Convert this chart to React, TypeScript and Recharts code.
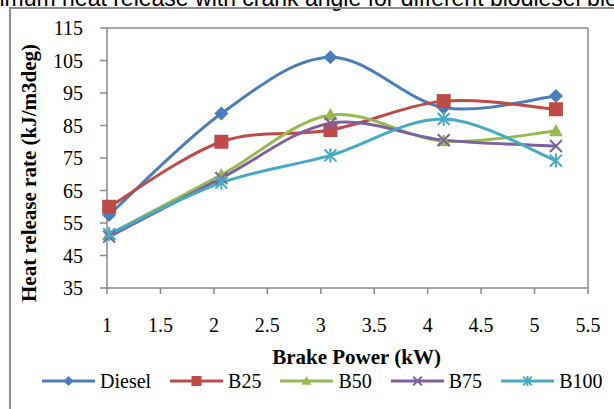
import { LineChart, Line, XAxis, YAxis, Legend, Label, ReferenceLine } from 'recharts'

const brakePower = [1.02, 2.07, 3.09, 4.15, 5.2]
const diesel = [57.5, 88.7, 106, 90.5, 94.1]
const b25 = [60, 80, 83.6, 92.5, 90]
const b50 = [51.5, 69.8, 88.2, 80.2, 83.3]
const b75 = [50.8, 68.8, 85.7, 80.5, 78.7]
const b100 = [51.6, 67.4, 75.8, 87, 74.2]

const xTicks = [1, 1.5, 2, 2.5, 3, 3.5, 4, 4.5, 5, 5.5]
const yTicks = [35, 45, 55, 65, 75, 85, 95, 105, 115]

const data = brakePower.map((x, i) => ({
  x,
  Diesel: diesel[i],
  B25: b25[i],
  B50: b50[i],
  B75: b75[i],
  B100: b100[i],
}))

const serif = '"Liberation Serif", "Times New Roman", serif'
const axisGray = '#898989'

// excel-style smoothed line (catmull-rom through the points)
const excelCurve = (context: any) => {
  let pts: number[][] = []
  return {
    areaStart() {},
    areaEnd() {},
    lineStart() {
      pts = []
    },
    point(x: number, y: number) {
      pts.push([+x, +y])
    },
    lineEnd() {
      if (!pts.length) return
      context.moveTo(pts[0][0], pts[0][1])
      for (let i = 0; i < pts.length - 1; i++) {
        const p0 = pts[Math.max(i - 1, 0)]
        const p1 = pts[i]
        const p2 = pts[i + 1]
        const p3 = pts[Math.min(i + 2, pts.length - 1)]
        context.bezierCurveTo(
          p1[0] + (p2[0] - p0[0]) / 6,
          p1[1] + (p2[1] - p0[1]) / 6,
          p2[0] - (p3[0] - p1[0]) / 6,
          p2[1] - (p3[1] - p1[1]) / 6,
          p2[0],
          p2[1]
        )
      }
    },
  }
}

function marker(kind: string, cx: number, cy: number, color: string, r: number, key?: any) {
  if (kind === 'diamond')
    return <polygon key={key} points={`${cx},${cy - r} ${cx + r},${cy} ${cx},${cy + r} ${cx - r},${cy}`} fill={color} />
  if (kind === 'square')
    return <rect key={key} x={cx - r} y={cy - r} width={r * 2} height={r * 2} fill={color} />
  if (kind === 'triangle')
    return <polygon key={key} points={`${cx},${cy - r} ${cx + r},${cy + r * 0.75} ${cx - r},${cy + r * 0.75}`} fill={color} />
  const d = r * 0.85
  const lines = [
    <line key="a" x1={cx - d} y1={cy - d} x2={cx + d} y2={cy + d} stroke={color} strokeWidth={2} />,
    <line key="b" x1={cx - d} y1={cy + d} x2={cx + d} y2={cy - d} stroke={color} strokeWidth={2} />,
  ]
  if (kind === 'star')
    lines.push(<line key="c" x1={cx} y1={cy - r} x2={cx} y2={cy + r} stroke={color} strokeWidth={2} />)
  return <g key={key}>{lines}</g>
}

const series = [
  { key: 'Diesel', color: '#4A7EBB', kind: 'diamond' },
  { key: 'B25', color: '#BE4B48', kind: 'square' },
  { key: 'B50', color: '#98B954', kind: 'triangle' },
  { key: 'B75', color: '#7D60A0', kind: 'x' },
  { key: 'B100', color: '#46AAC5', kind: 'star' },
]

function LegendContent() {
  return (
    <div style={{ display: 'flex', alignItems: 'center', height: 24, paddingLeft: 42, fontFamily: serif, fontSize: 20, color: '#000' }}>
      {series.map((s) => (
        <div key={s.key} style={{ display: 'flex', alignItems: 'center', marginRight: 19 }}>
          <svg width={53} height={20} style={{ marginRight: 5 }}>
            <line x1={0} y1={10} x2={53} y2={10} stroke={s.color} strokeWidth={3} />
            {marker(s.kind, 26.5, 10, s.color, 5)}
          </svg>
          <span>{s.key}</span>
        </div>
      ))}
    </div>
  )
}

export default function App() {
  return (
    <div style={{ position: 'absolute', left: 0, top: 0, width: 614, height: 409, overflow: 'hidden', background: '#fff', fontFamily: serif }}>
      <div
        style={{
          position: 'absolute',
          left: -44,
          top: -15,
          whiteSpace: 'nowrap',
          fontFamily: '"Liberation Sans", Arial, sans-serif',
          fontSize: 23,
          color: '#000',
        }}
      >
        maximum heat release with crank angle for different biodiesel blends
      </div>
      <div
        style={{
          position: 'absolute',
          left: 9,
          top: 7,
          width: 700,
          height: 500,
          borderLeft: '2px solid #8f8f8f',
          borderTop: '2px solid #8f8f8f',
        }}
      />
      <div style={{ position: 'absolute', left: 0, top: 0 }}>
        <LineChart
          width={614}
          height={409}
          data={data}
          margin={{ top: 28, right: 26, bottom: 16, left: 0 }}
          style={{ fontFamily: serif }}
        >
          <XAxis
            dataKey="x"
            type="number"
            domain={[1, 5.5]}
            ticks={xTicks}
            height={81}
            stroke={axisGray}
            strokeWidth={1.5}
            tickSize={6}
            tickMargin={24}
            tick={{ fill: '#000', fontSize: 20, fontFamily: serif }}
          >
            <Label
              content={(p: any) => (
                <text
                  x={p.viewBox.x + p.viewBox.width / 2 + 9}
                  y={364}
                  textAnchor="middle"
                  fontFamily={serif}
                  fontWeight="bold"
                  fontSize={21}
                  fill="#000"
                >
                  Brake Power (kW)
                </text>
              )}
            />
          </XAxis>
          <YAxis
            type="number"
            domain={[35, 115]}
            ticks={yTicks}
            width={107}
            stroke={axisGray}
            strokeWidth={1.5}
            tickSize={7}
            tickMargin={17}
            tick={{ fill: '#000', fontSize: 20, fontFamily: serif }}
          >
            <Label
              content={() => (
                <text
                  x={36}
                  y={173}
                  transform="rotate(-90, 36, 173)"
                  textAnchor="middle"
                  fontFamily={serif}
                  fontWeight="bold"
                  fontSize={21}
                  fill="#000"
                >
                  Heat release rate (kJ/m3deg)
                </text>
              )}
            />
          </YAxis>
          <ReferenceLine y={115} stroke={axisGray} strokeWidth={1.5} />
          <ReferenceLine x={5.5} stroke={axisGray} strokeWidth={1.5} />
          {series.map((s) => (
            <Line
              key={s.key}
              dataKey={s.key}
              type={excelCurve as any}
              stroke={s.color}
              strokeWidth={3}
              isAnimationActive={false}
              dot={(p: any) => marker(s.kind, p.cx, p.cy, s.color, 7, `${s.key}-${p.index}`)}
              activeDot={false}
            />
          ))}
          <Legend verticalAlign="bottom" content={<LegendContent />} wrapperStyle={{ left: 0, width: 614 }} />
        </LineChart>
      </div>
    </div>
  )
}
